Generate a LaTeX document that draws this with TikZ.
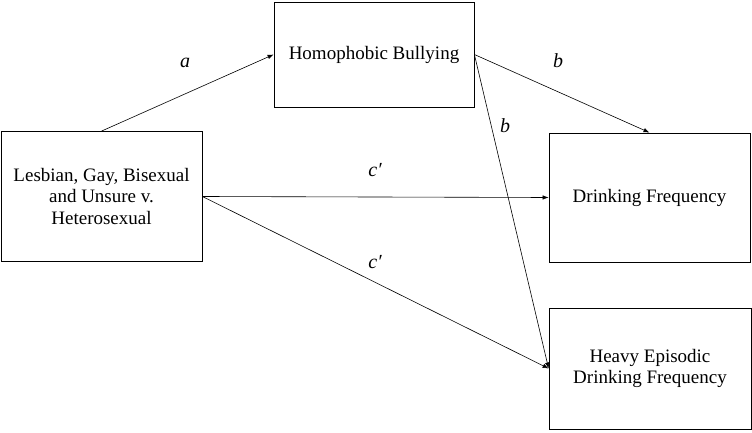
\documentclass[tikz,border=0pt]{standalone}
\usepackage{fontspec}
\setmainfont{Liberation Serif}
\usetikzlibrary{arrows.meta}

\begin{document}
\begin{tikzpicture}[x=1pt,y=1pt,
    every node/.style={font=\fontsize{19}{21.5}\selectfont},
    varbox/.style={draw,line width=0.8pt,align=center,inner sep=0pt},
    path/.style={-{Latex[length=6pt,width=4.5pt]},line width=0.6pt},
    pathlbl/.style={font=\fontsize{20}{22}\selectfont\itshape}]
    \useasboundingbox (0,0) rectangle (752,432);
    \node[varbox,minimum width=201pt,minimum height=130pt]
      (lgb) at (101.5,235.5) {Lesbian, Gay, Bisexual\\and Unsure v.\\Heterosexual};
    \node[varbox,minimum width=200pt,minimum height=105pt]
      (bully) at (374,377.5) {Homophobic Bullying};
    \node[varbox,minimum width=201pt,minimum height=129pt]
      (freq) at (649.5,234.5) {Drinking Frequency};
    \node[varbox,minimum width=202pt,minimum height=121pt]
      (hed) at (650,63.5) {Heavy Episodic\\Drinking Frequency};
    \draw[path] (lgb.north)--(bully.west);
    \draw[path] (bully.east)--(freq.north);
    \draw[path] (bully.east)--(hed.west);
    \draw[path] (lgb.east)--(freq.west);
    \draw[path] (lgb.east)--(hed.west);
    \node[pathlbl] (la) at (185,369) {a};
    \node[pathlbl] (lb1) at (558,371) {b};
    \node[pathlbl] (lb2) at (505,306) {b};
    \node[pathlbl] (lc1) at (375,262) {c′};
    \node[pathlbl] (lc2) at (375,170) {c′};
  \end{tikzpicture}
\end{document}
